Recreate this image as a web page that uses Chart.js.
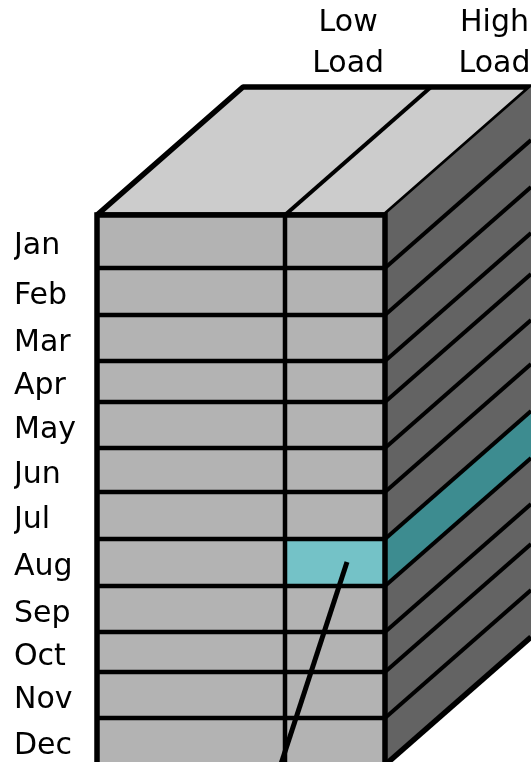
<!DOCTYPE html>
<html>
<head>
<meta charset="utf-8">
<script src="https://cdn.jsdelivr.net/npm/chart.js@4.4.0/dist/chart.umd.min.js"></script>
<style>
  html, body { margin: 0; padding: 0; background: #fff; }
  canvas { display: block; }
</style>
</head>
<body>
<canvas id="cube" width="531" height="762"></canvas>
<script>
// one row per month down the front of the block
var months = ['Jan', 'Feb', 'Mar', 'Apr', 'May', 'Jun', 'Jul', 'Aug', 'Sep', 'Oct', 'Nov', 'Dec'];
// row heights
var rowHeights = [53, 47, 46, 41, 46, 44, 47, 47, 46, 40, 46, 47];
// column headings and widths of the front face
var columnLabels = [['Low', 'Load'], ['High', 'Load']];
var columnWidths = [188, 100];
// highlighted cell
var highlightMonth = 'Aug';
var highlightColumn = 1;

// drawing setup
var DEPTH_X = 146, DEPTH_Y = 128;
var FRONT = '#b3b3b3', TOP = '#cccccc', SIDE = '#636363';
var TEAL = '#74c2c7', TEAL_DARK = '#3d8c90';

var bounds = [0];
rowHeights.forEach(function (h, i) { bounds.push(bounds[i] + h); });
var W = columnWidths[0] + columnWidths[1];
var H = bounds[bounds.length - 1];
var split = columnWidths[0];
var hi = months.indexOf(highlightMonth);
var colLeft = highlightColumn === 0 ? 0 : split;
var colRight = highlightColumn === 0 ? split : W;

function back(p) { return { x: p.x + DEPTH_X, y: p.y - DEPTH_Y }; }
function pt(x, y) { return { x: x, y: y }; }

var datasets = [];
function add(points, opts) {
  datasets.push(Object.assign({
    data: points,
    borderColor: '#000',
    borderWidth: 0,
    backgroundColor: 'transparent',
    fill: false,
    pointRadius: 0,
    tension: 0,
    clip: false,
    borderJoinStyle: 'miter'
  }, opts));
}

// top face
add([pt(W / 2, 0), pt(0, 0), back(pt(0, 0)), back(pt(W, 0)), pt(W, 0), pt(W / 2, 0)],
  { fill: 'shape', backgroundColor: TOP, borderWidth: 5.5, borderJoinStyle: 'bevel' });
add([pt(split, 0), back(pt(split, 0))], { borderWidth: 4 });

// right side face
add([pt(W, 0), back(pt(W, 0)), back(pt(W, H)), pt(W, H)],
  { fill: 'shape', backgroundColor: SIDE });
add([pt(W, bounds[hi]), back(pt(W, bounds[hi])), back(pt(W, bounds[hi + 1])), pt(W, bounds[hi + 1])],
  { fill: 'shape', backgroundColor: TEAL_DARK });
for (var i = 1; i < bounds.length - 1; i++) {
  add([pt(W, bounds[i]), back(pt(W, bounds[i]))], { borderWidth: 4 });
}
add([pt(W, H), back(pt(W, H))], { borderWidth: 5.5 });

// front face
add([pt(0, 0), pt(W, 0), pt(W, H), pt(0, H)], { fill: 'shape', backgroundColor: FRONT });
add([pt(colLeft, bounds[hi]), pt(colRight, bounds[hi]), pt(colRight, bounds[hi + 1]), pt(colLeft, bounds[hi + 1])],
  { fill: 'shape', backgroundColor: TEAL });
for (var j = 1; j < bounds.length - 1; j++) {
  add([pt(0, bounds[j]), pt(W, bounds[j])], { borderWidth: 4.5 });
}
add([pt(split, 0), pt(split, H)], { borderWidth: 4.5 });
add([pt(W / 2, H), pt(0, H), pt(0, 0), pt(W, 0), pt(W, H), pt(W / 2, H)], { borderWidth: 5.5 });

// pointer from the highlighted cell
var callout = [pt(colLeft + 62, bounds[hi] + 23), pt(183, H + 2)];
add(callout, { borderWidth: 5 });

// draw in array order
datasets.forEach(function (d, k) { d.order = -k; });

var lowX = split + columnWidths[1] / 2 + DEPTH_X * 0.09;
var highX = W + DEPTH_X * 0.75;

function noPad(s) {
  s.paddingTop = 0; s.paddingBottom = 0; s.paddingLeft = 0; s.paddingRight = 0;
}

var chart = new Chart(document.getElementById('cube'), {
  type: 'line',
  data: { datasets: datasets },
  options: {
    responsive: false,
    animation: false,
    events: [],
    layout: { padding: { left: 14, top: 0, right: 0, bottom: 0 } },
    plugins: { legend: { display: false }, tooltip: { enabled: false } },
    scales: {
      x: {
        type: 'linear',
        position: 'top',
        min: -7,
        max: 434,
        grid: { display: false, drawTicks: false },
        border: { display: false },
        afterFit: function (s) { s.height = 85; noPad(s); },
        afterBuildTicks: function (s) { s.ticks = [{ value: lowX }, { value: highX }]; },
        ticks: {
          autoSkip: false,
          maxRotation: 0,
          minRotation: 0,
          padding: 0,
          color: '#000',
          font: { family: 'DejaVu Sans', size: 30, lineHeight: 1.37 },
          callback: function (v, i) { return columnLabels[i]; }
        }
      },
      y: {
        type: 'linear',
        reverse: true,
        min: -130,
        max: 547,
        grid: { display: false, drawTicks: false },
        border: { display: false },
        afterFit: function (s) { s.width = 76; noPad(s); },
        afterBuildTicks: function (s) {
          s.ticks = months.map(function (m, i) { return { value: (bounds[i] + bounds[i + 1]) / 2 }; });
        },
        ticks: {
          autoSkip: false,
          crossAlign: 'far',
          labelOffset: 5,
          padding: 0,
          color: '#000',
          font: { family: 'DejaVu Sans', size: 30 },
          callback: function (v, i) { return months[i]; }
        }
      }
    }
  }
});
</script>
</body>
</html>
